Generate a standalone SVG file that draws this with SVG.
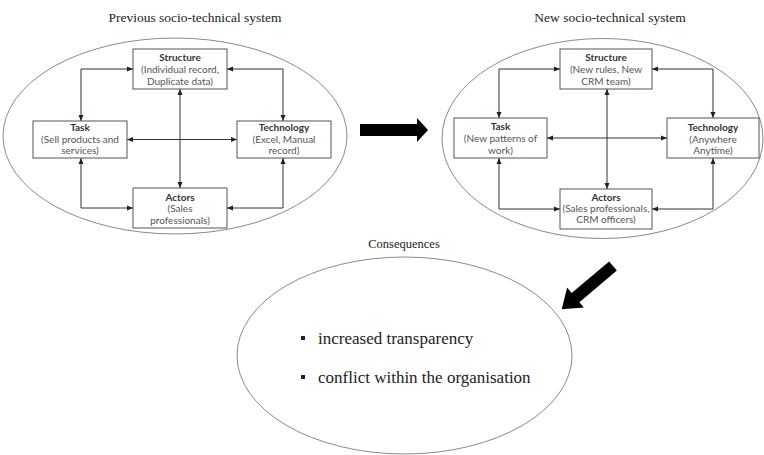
<svg xmlns="http://www.w3.org/2000/svg" width="764" height="455" viewBox="0 0 764 455">
<style>
.title{font-family:"Liberation Serif","Times New Roman",serif;font-size:13.5px;fill:#222;text-anchor:middle}
.ell{fill:#fff;stroke:#8a8a8a;stroke-width:1}
.box{fill:#fff;stroke:#555;stroke-width:1}
.bt{font-family:Lato,"Open Sans",sans-serif;font-size:10px;font-weight:bold;fill:#333;text-anchor:middle}
.tx{font-family:Lato,"Open Sans",sans-serif;font-size:10px;fill:#555;text-anchor:middle}
.conn{fill:none;stroke:#333;stroke-width:1;marker-start:url(#ah);marker-end:url(#ah)}
.big{fill:#000}
.bul{font-family:"Liberation Serif","Times New Roman",serif;font-size:17px;fill:#222}
</style>
<defs>
<marker id="ah" markerUnits="userSpaceOnUse" markerWidth="6" markerHeight="6" refX="6" refY="3" orient="auto-start-reverse">
<path d="M0,0.5 L6,3 L0,5.5 z" fill="#222"/>
</marker>
</defs>
<rect width="764" height="455" fill="#fff"/>

<text class="title" x="195" y="22">Previous socio-technical system</text>
<text class="title" x="610" y="22">New socio-technical system</text>
<text class="title" x="404" y="248" style="font-size:12.5px">Consequences</text>

<g id="prev-system">
<ellipse class="ell" cx="175" cy="136" rx="172" ry="98"/>
</g>
<g id="new-system">
<ellipse class="ell" cx="602.5" cy="138.5" rx="160.5" ry="100"/>
</g>

<g id="connectors">
<path class="conn" d="M133,69 H81 V121"/>
<path class="conn" d="M227,69 H283 V121"/>
<path class="conn" d="M127,139.5 H237"/>
<path class="conn" d="M180,89 V188"/>
<path class="conn" d="M81,158 V208 H133"/>
<path class="conn" d="M283,158 V208 H227"/>
<path class="conn" d="M560,69 H499 V118"/>
<path class="conn" d="M652,69 H713 V118"/>
<path class="conn" d="M547,138 H667"/>
<path class="conn" d="M607,89 V189"/>
<path class="conn" d="M499,158 V209 H560"/>
<path class="conn" d="M713,158 V209 H652"/>
<polygon class="big" points="360,124 417,124 417,118 428,130 417,142 417,136 360,136"/>
<polygon class="big" transform="translate(613,266) rotate(139.9)" points="0,-6 49,-6 49,-13 67,0 49,13 49,6 0,6"/>
</g>

<g id="prev-structure">
<rect class="box" x="133" y="49" width="94" height="40"/>
<text class="bt" x="180" y="60.5">Structure</text>
<text class="tx" x="180" y="72.5">(Individual record,</text>
<text class="tx" x="180" y="85">Duplicate data)</text>
</g>
<g id="prev-task">
<rect class="box" x="33" y="121" width="94" height="37"/>
<text class="bt" x="80" y="131">Task</text>
<text class="tx" x="80" y="142.5">(Sell products and</text>
<text class="tx" x="80" y="154">services)</text>
</g>
<g id="prev-technology">
<rect class="box" x="237" y="121" width="94" height="37"/>
<text class="bt" x="284" y="131">Technology</text>
<text class="tx" x="284" y="142.5">(Excel, Manual</text>
<text class="tx" x="284" y="154">record)</text>
</g>
<g id="prev-actors">
<rect class="box" x="133" y="188" width="94" height="40"/>
<text class="bt" x="180" y="200.5">Actors</text>
<text class="tx" x="180" y="212">(Sales</text>
<text class="tx" x="180" y="223.5">professionals)</text>
</g>

<g id="new-structure">
<rect class="box" x="560" y="49" width="92" height="40"/>
<text class="bt" x="606" y="60.5">Structure</text>
<text class="tx" x="606" y="72.5">(New rules, New</text>
<text class="tx" x="606" y="85">CRM team)</text>
</g>
<g id="new-task">
<rect class="box" x="454" y="118" width="93" height="40"/>
<text class="bt" x="500.5" y="129.5">Task</text>
<text class="tx" x="500.5" y="142">(New patterns of</text>
<text class="tx" x="500.5" y="154">work)</text>
</g>
<g id="new-technology">
<rect class="box" x="667" y="118" width="92" height="40"/>
<text class="bt" x="713" y="131">Technology</text>
<text class="tx" x="713" y="142.5">(Anywhere</text>
<text class="tx" x="713" y="153.5">Anytime)</text>
</g>
<g id="new-actors">
<rect class="box" x="560" y="189" width="92" height="40"/>
<text class="bt" x="606" y="200.5">Actors</text>
<text class="tx" x="606" y="212">(Sales professionals,</text>
<text class="tx" x="606" y="223">CRM officers)</text>
</g>

<g id="consequences">
<ellipse class="ell" cx="404.5" cy="355.5" rx="167.5" ry="98.5"/>
<rect x="301" y="336" width="4" height="4" fill="#222"/>
<text class="bul" x="318" y="344">increased transparency</text>
<rect x="301" y="375" width="4" height="4" fill="#222"/>
<text class="bul" x="318" y="383">conflict within the organisation</text>
</g>
</svg>
